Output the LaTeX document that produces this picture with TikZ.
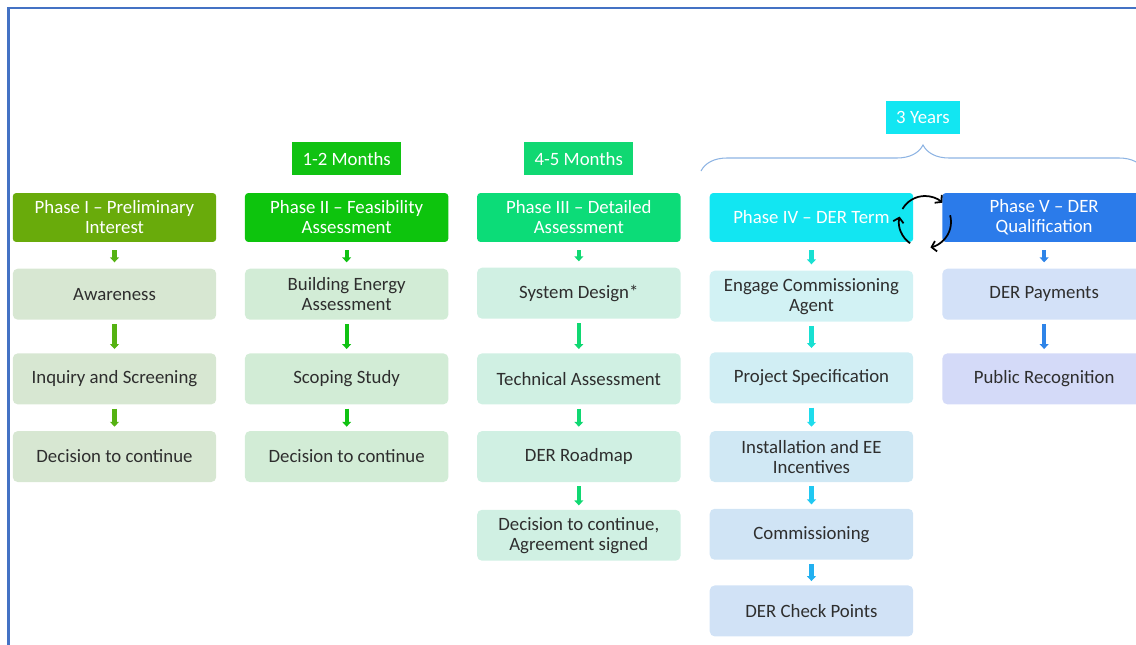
\documentclass[tikz,border=0pt]{standalone}
\usepackage{fontspec}
\setmainfont{Carlito}
\usetikzlibrary{positioning,arrows.meta,decorations.pathreplacing}

\definecolor{frameblue}{HTML}{4472C4}
\definecolor{textgrey}{HTML}{2E2E2E}
\definecolor{ph1}{HTML}{69AB0B}
\definecolor{ph2}{HTML}{0DC40D}
\definecolor{ph3}{HTML}{0CDC78}
\definecolor{ph4}{HTML}{12E6F2}
\definecolor{ph5}{HTML}{2B7BEA}
\definecolor{bx1}{HTML}{D7E7D2}
\definecolor{bx2}{HTML}{D2ECD6}
\definecolor{bx3}{HTML}{D0F0E3}
\definecolor{bx4a}{HTML}{D2F2F4}
\definecolor{bx4b}{HTML}{D1EEF4}
\definecolor{bx4c}{HTML}{D0E8F4}
\definecolor{bx4d}{HTML}{D0E4F5}
\definecolor{bx4e}{HTML}{D1E2F6}
\definecolor{bx5a}{HTML}{D3E1F8}
\definecolor{bx5b}{HTML}{D4DAF8}
\definecolor{ar1}{HTML}{55B212}
\definecolor{ar2}{HTML}{10C212}
\definecolor{ar3}{HTML}{10D872}
\definecolor{ar4a}{HTML}{18E0D2}
\definecolor{ar4b}{HTML}{1EDCEC}
\definecolor{ar4c}{HTML}{20C8F2}
\definecolor{ar4d}{HTML}{22B0F0}
\definecolor{ar5}{HTML}{2E84E8}
\definecolor{bracecol}{HTML}{8EB4E3}

\begin{document}
\begin{tikzpicture}
         [x=0.02cm, y=0.02cm, node distance=0.5cm,
          font=\fontsize{10.7}{11.4}\selectfont,
          phase node/.style={rectangle, rounded corners=0.07cm, minimum width=4.07cm, minimum height=0.98cm, inner sep=0pt, align=center, text=white},
          step node/.style={rectangle, rounded corners=0.1cm, minimum width=4.07cm, minimum height=1.02cm, inner sep=0pt, align=center, text=textgrey},
          time node/.style={rectangle, minimum height=0.66cm, inner sep=0pt, text=white},
          flow line/.style={line width=2.3pt, -{Triangle[width=5pt,length=2.8pt]}, shorten <=0.08cm, shorten >=0.08cm},
          head line/.style={flow line, shorten <=0.16cm, shorten >=0.12cm},
          cycle arrow/.style={line width=1pt, -{Straight Barb[length=2.6pt,width=6pt]}}]
         \useasboundingbox (0,0) rectangle (1136,-645);
         \clip (0,0) rectangle (1136,-645);
         \draw[frameblue, line width=1.3pt] (8.5,-645) -- (8.5,-7.7) -- (1136,-7.7);

         \node[phase node, fill=ph1] (p1) at (114.5,-217.5) {Phase I – Preliminary\\Interest};
         \node[phase node, fill=ph2, right=0.56cm of p1] (p2) {Phase II – Feasibility\\Assessment};
         \node[phase node, fill=ph3, right=0.56cm of p2] (p3) {Phase III – Detailed\\Assessment};
         \node[phase node, fill=ph4, right=0.57cm of p3] (p4) {Phase IV – DER Term};
         \node[phase node, fill=ph5, right=0.57cm of p4] (p5) {Phase V – DER\\Qualification};

         \node[time node, fill=ar2, minimum width=2.18cm, above=0.34cm of p2] (m12) {1-2 Months};
         \node[time node, fill=ar3, minimum width=2.18cm, above=0.34cm of p3] (m45) {4-5 Months};
         \node[time node, fill=ph4, minimum width=1.48cm] (yr3) at (923,-117.5) {3 Years};
         \draw[bracecol, line width=0.6pt, decorate, decoration={brace, amplitude=0.52cm}] (701,-171) -- (1145,-171);

         \node[step node, fill=bx1, below=0.52cm of p1] (aw) {Awareness};
         \node[step node, fill=bx1, below=0.66cm of aw] (iq) {Inquiry and Screening};
         \node[step node, fill=bx1, below=0.52cm of iq] (dc1) {Decision to continue};

         \node[step node, fill=bx2, below=0.52cm of p2] (bea) {Building Energy\\Assessment};
         \node[step node, fill=bx2, below=0.66cm of bea] (ss) {Scoping Study};
         \node[step node, fill=bx2, below=0.52cm of ss] (dc2) {Decision to continue};

         \node[step node, fill=bx3, below=0.5cm of p3] (sd) {System Design*};
         \node[step node, fill=bx3, below=0.68cm of sd] (ta) {Technical Assessment};
         \node[step node, fill=bx3, below=0.52cm of ta] (rm) {DER Roadmap};
         \node[step node, fill=bx3, below=0.54cm of rm] (dc3) {Decision to continue,\\Agreement signed};

         \node[step node, fill=bx4a, below=0.56cm of p4] (eca) {Engage Commissioning\\Agent};
         \node[step node, fill=bx4b, below=0.6cm of eca] (ps) {Project Specification};
         \node[step node, fill=bx4c, below=0.54cm of ps] (ie) {Installation and EE\\Incentives};
         \node[step node, fill=bx4d, below=0.52cm of ie] (cm) {Commissioning};
         \node[step node, fill=bx4e, below=0.5cm of cm] (cp) {DER Check Points};

         \node[step node, fill=bx5a, below=0.52cm of p5] (pay) {DER Payments};
         \node[step node, fill=bx5b, below=0.66cm of pay] (pr) {Public Recognition};

         \draw[head line, ar1] (p1) -- (aw);
         \draw[flow line, ar1] (aw) -- (iq);
         \draw[flow line, ar1] (iq) -- (dc1);

         \draw[head line, ar2] (p2) -- (bea);
         \draw[flow line, ar2] (bea) -- (ss);
         \draw[flow line, ar2] (ss) -- (dc2);

         \draw[head line, ar3] (p3) -- (sd);
         \draw[flow line, ar3] (sd) -- (ta);
         \draw[flow line, ar3] (ta) -- (rm);
         \draw[flow line, ar3] (rm) -- (dc3);

         \draw[head line, ar4a] (p4) -- (eca);
         \draw[flow line, ar4a] (eca) -- (ps);
         \draw[flow line, ar4b] (ps) -- (ie);
         \draw[flow line, ar4c] (ie) -- (cm);
         \draw[flow line, ar4d] (cm) -- (cp);

         \draw[head line, ar5] (p5) -- (pay);
         \draw[flow line, ar5] (pay) -- (pr);

         \coordinate (cyc) at (925,-222);
         \foreach \a/\b in {150/48, 15/-78, -125/-192}
            \draw[cycle arrow] (cyc) ++(\a:0.52cm) arc[start angle=\a, end angle=\b, radius=0.52cm];
      \end{tikzpicture}
\end{document}
